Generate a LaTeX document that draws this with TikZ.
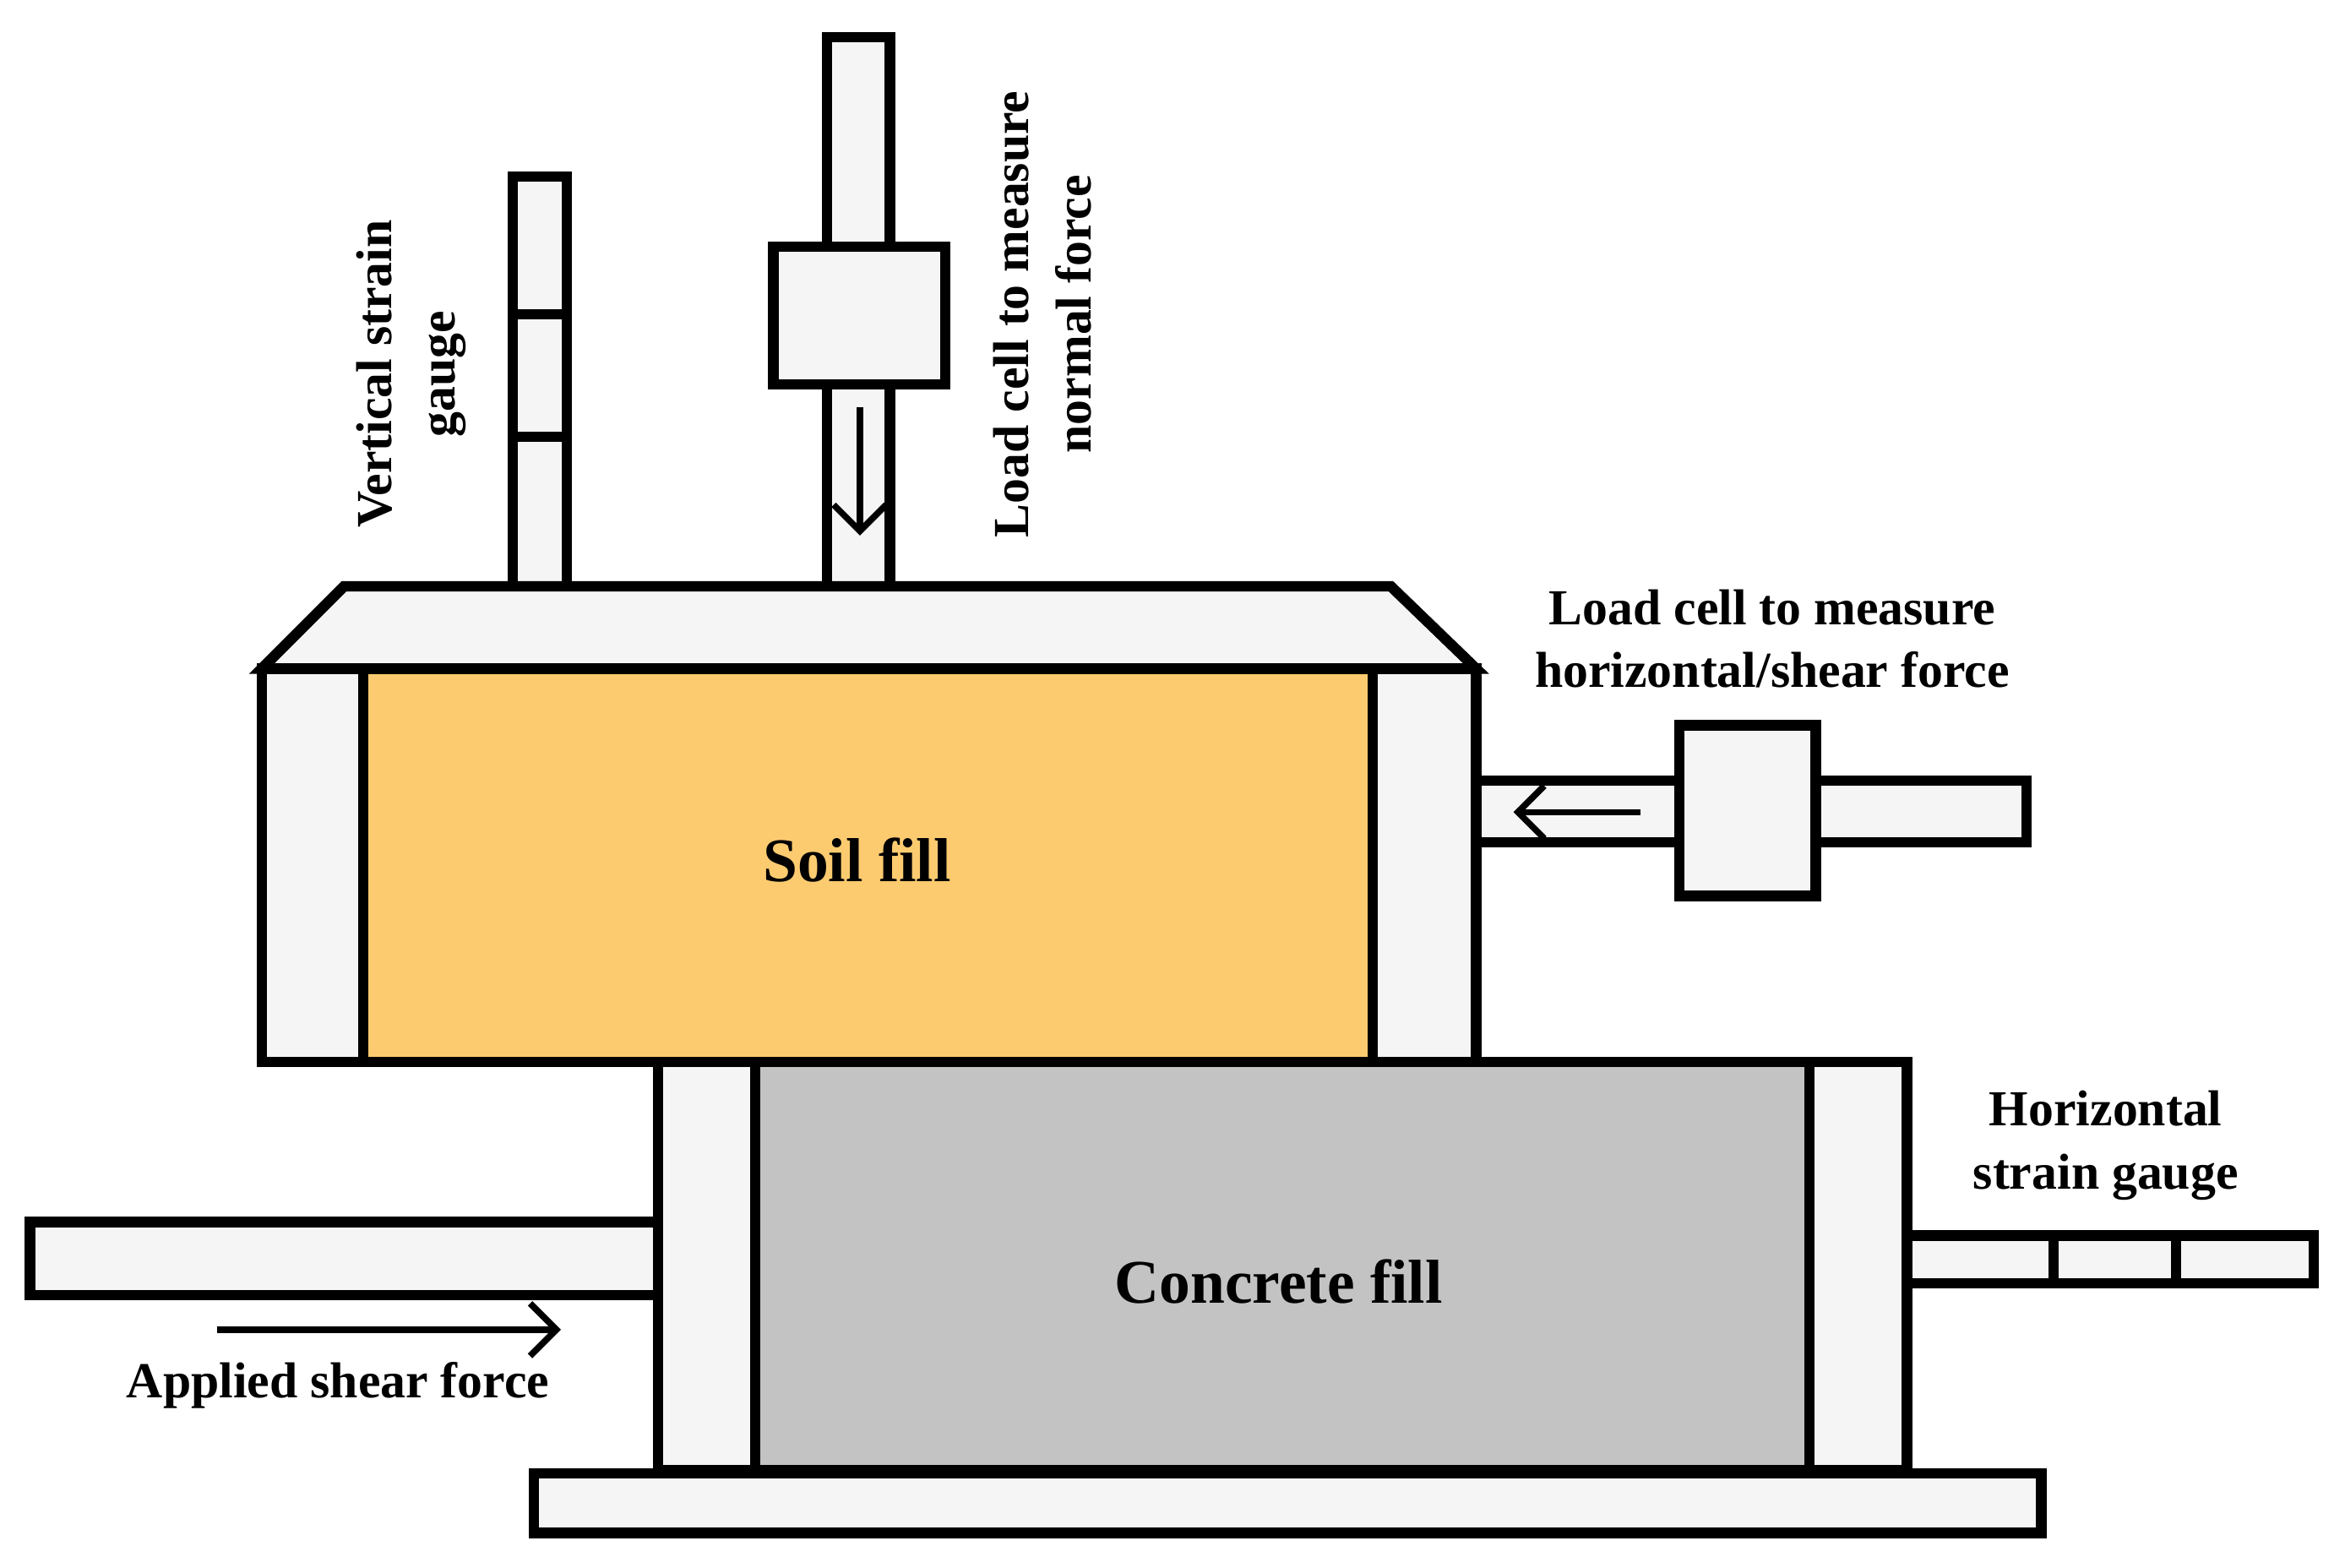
\documentclass[tikz,border=0pt]{standalone}
\usepackage{fontspec}
\setmainfont{Liberation Serif}
\usetikzlibrary{arrows.meta}
\begin{document}
\begin{tikzpicture}[x=0.01cm,y=-0.01cm,
 part/.style={draw=black,line width=2pt,fill=gray!8},
 arr/.style={->,line width=1.2pt,>={Straight Barb[length=5pt]}},
 lab/.style={font=\bfseries\fontsize{9.6}{12}\selectfont,align=center,inner sep=0pt},
 big/.style={font=\bfseries\fontsize{11.8}{14}\selectfont,inner sep=0pt}]
\useasboundingbox (0,0) rectangle (1568,1048);
% top rod and load cell
\draw[part] (553,25) rectangle (595,392);
\draw[part] (517,165) rectangle (632,257);
\coordinate (na) at (575,272); \coordinate (nb) at (575,358);
\draw[arr] (na) -- (nb);
% vertical gauge
\draw[part] (343,118) rectangle (379,392);
\draw[line width=2pt] (343,210) -- (379,210) (343,292) -- (379,292);
% lid
\draw[part,line join=miter] (230,392) -- (930,392) -- (987,447) -- (175,447) -- cycle;
% upper box
\draw[part] (175,447) rectangle (987,710);
\draw[line width=2pt,fill={rgb,255:red,252;green,203;blue,112}] (243,447) rectangle (918,710);
\node[big] (soil) at (573,575) {Soil fill};
% right rods
\draw[part] (987,522) rectangle (1123,563);
\draw[part] (1214,522) rectangle (1355,563);
\draw[part] (1123,485) rectangle (1214,599);
\coordinate (ha) at (1097,543); \coordinate (hb) at (1012,543);
\draw[arr] (ha) -- (hb);
% lower box
\draw[part] (440,710) rectangle (1275,983);
\draw[line width=2pt,fill={rgb,255:red,195;green,195;blue,195}] (505,710) rectangle (1210,983);
\node[big] (conc) at (855,857) {Concrete fill};
% left rod
\draw[part] (20,817) rectangle (440,866);
\coordinate (sa) at (145,889); \coordinate (sb) at (375,889);
\draw[arr] (sa) -- (sb);
% base
\draw[part] (357,985) rectangle (1365,1025);
% horizontal gauge
\draw[part] (1275,826) rectangle (1547,858);
\draw[line width=2pt] (1373,826) -- (1373,858) (1455,826) -- (1455,858);
% labels
\node[lab] (l1) at (226,926) {Applied shear force};
\node[lab] (l2) at (1408,766) {Horizontal\\strain gauge};
\node[lab] (l3) at (1185,427) {Load cell to measure\\horizontal/shear force};
\node[lab,rotate=90] (l4) at (275,250) {Vertical strain\\gauge};
\node[lab,rotate=90] (l5) at (697,210) {Load cell to measure\\normal force};
\end{tikzpicture}
\end{document}
